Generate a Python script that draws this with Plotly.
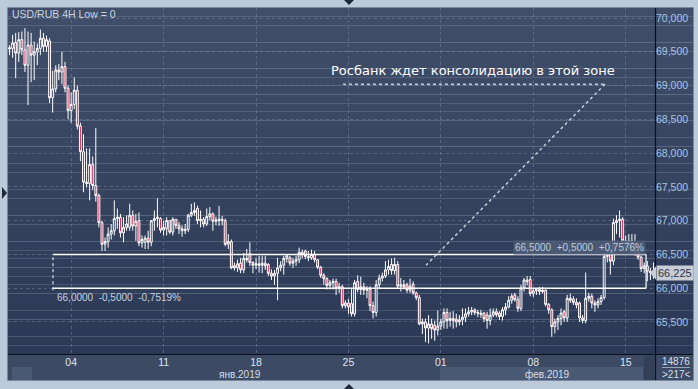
import plotly.graph_objects as go

# ---------------- data (USD/RUB 4H candles) ----------------
opens = [69.54,69.55,69.64,69.48,69.68,69.53,69.30,69.60,69.45,69.50,
         69.55,69.70,69.58,69.66,68.82,68.95,69.23,69.20,69.28,68.96,
         68.63,68.72,68.93,68.40,68.02,67.57,67.55,67.83,67.52,67.37,
         66.97,66.65,66.69,66.80,66.85,67.03,67.05,66.82,66.90,66.90,
         67.08,66.92,67.00,66.67,66.68,66.74,66.68,67.00,67.03,67.03,
         66.86,66.88,67.00,66.83,67.02,66.93,66.88,66.85,66.87,67.08,
         67.12,67.18,67.00,67.02,66.95,67.06,67.10,66.99,67.00,67.02,
         67.00,66.65,66.69,66.30,66.30,66.37,66.27,66.44,66.51,66.38,
         66.34,66.36,66.34,66.37,66.35,66.22,66.18,66.22,66.30,66.34,
         66.44,66.45,66.37,66.40,66.42,66.53,66.55,66.47,66.45,66.50,
         66.42,66.31,66.19,66.14,66.04,66.08,66.10,66.00,66.02,65.74,
         65.78,65.77,65.62,66.10,65.98,66.02,65.97,65.98,65.74,65.64,
         66.05,66.15,66.18,66.27,66.35,66.26,66.35,66.03,66.05,66.05,
         65.97,66.06,65.93,65.86,65.47,65.50,65.41,65.47,65.45,65.38,
         65.44,65.50,65.64,65.52,65.55,65.54,65.50,65.53,65.57,65.62,
         65.65,65.68,65.64,65.63,65.63,65.60,65.52,65.60,65.65,65.63,
         65.58,65.68,65.72,65.82,65.90,65.83,65.70,66.00,66.12,66.13,
         65.92,65.96,65.98,65.95,65.97,65.76,65.68,65.43,65.50,65.55,
         65.65,65.56,65.85,65.84,65.79,65.78,65.56,65.52,65.85,65.88,
         65.78,65.75,65.80,65.86,66.47,66.50,66.40,66.97,67.00,67.02,
         66.70,66.67,66.70,66.66,66.55,66.46,66.29,66.33,66.25,66.23]
highs = [69.60,69.75,69.78,69.79,69.80,69.85,69.80,69.78,69.65,69.62,
         69.83,69.78,69.74,69.70,69.22,69.30,69.32,69.50,69.35,69.00,
         68.90,69.12,69.00,68.45,68.28,68.07,68.07,67.95,68.37,67.40,
         67.00,66.75,66.90,66.95,67.30,67.18,67.10,67.05,67.08,67.25,
         67.15,67.10,67.12,66.78,66.78,66.85,67.00,67.15,67.33,67.05,
         67.00,67.05,67.00,67.05,67.02,66.98,66.93,66.95,67.10,67.25,
         67.27,67.22,67.15,67.05,67.18,67.20,67.12,67.06,67.22,67.07,
         67.03,66.80,66.72,66.38,66.42,66.45,66.52,66.58,66.68,66.40,
         66.45,66.48,66.48,66.48,66.37,66.28,66.27,66.45,66.40,66.48,
         66.50,66.48,66.45,66.48,66.60,66.57,66.57,66.55,66.57,66.55,
         66.43,66.33,66.22,66.16,66.12,66.14,66.14,66.08,66.05,65.82,
         65.84,66.00,66.12,66.19,66.17,66.08,66.03,66.03,65.80,66.12,
         66.20,66.23,66.40,66.42,66.44,66.45,66.40,66.15,66.12,66.08,
         66.14,66.10,65.95,65.90,65.55,65.55,65.60,65.55,65.52,65.67,
         65.55,65.70,65.70,65.65,65.66,65.62,65.60,65.70,65.70,65.72,
         65.72,65.70,65.68,65.68,65.65,65.65,65.70,65.70,65.70,65.66,
         65.72,65.78,65.88,65.92,65.93,65.88,66.05,66.15,66.18,66.18,
         66.00,66.00,66.02,66.02,66.00,65.78,65.70,65.55,65.60,65.70,
         65.68,65.90,65.92,65.88,65.85,65.80,65.60,66.23,65.93,65.92,
         65.82,65.85,65.90,66.52,66.55,66.55,67.03,67.08,67.15,67.05,
         66.78,66.80,66.80,66.80,66.58,66.48,66.38,66.40,66.30,66.38]
lows = [69.45,69.41,69.11,69.35,69.45,69.20,68.71,69.05,69.08,69.30,
        69.45,69.50,69.50,68.74,68.60,68.90,69.08,69.02,68.90,68.50,
        68.45,68.65,68.35,67.88,67.42,67.49,67.30,67.45,67.28,66.90,
        66.55,66.55,66.60,66.72,66.78,66.88,66.75,66.68,66.85,66.85,
        66.85,66.70,66.62,66.60,66.58,66.58,66.62,66.85,66.90,66.82,
        66.78,66.78,66.80,66.78,66.88,66.80,66.76,66.80,66.83,67.05,
        67.07,66.95,66.90,66.90,66.92,67.00,66.85,66.93,66.92,66.93,
        66.62,66.58,66.28,66.26,66.24,66.22,66.22,66.38,66.33,66.22,
        66.28,66.23,66.22,66.27,66.18,66.12,66.05,65.82,66.25,66.20,
        66.38,66.33,66.30,66.33,66.37,66.44,66.43,66.40,66.42,66.38,
        66.28,66.15,66.05,65.98,65.98,65.98,65.90,65.93,65.70,65.70,
        65.62,65.58,65.58,65.94,65.90,65.90,65.85,65.66,65.55,65.58,
        66.00,66.10,66.15,66.20,66.20,66.20,66.00,65.95,65.98,65.93,
        65.93,65.90,65.82,65.45,65.32,65.20,65.18,65.25,65.22,65.30,
        65.38,65.40,65.40,65.43,65.40,65.42,65.45,65.45,65.50,65.58,
        65.60,65.60,65.57,65.56,65.50,65.40,65.45,65.57,65.57,65.53,
        65.52,65.60,65.70,65.77,65.80,65.65,65.66,65.95,66.04,65.88,
        65.87,65.90,65.90,65.92,65.73,65.62,65.28,65.33,65.38,65.45,
        65.50,65.50,65.78,65.75,65.70,65.50,65.48,65.48,65.80,65.70,
        65.65,65.70,65.75,65.83,66.38,66.20,66.34,66.80,66.75,66.62,
        66.55,66.55,66.50,66.48,66.42,66.24,66.22,66.10,66.12,66.14]
closes = [69.56,69.63,69.48,69.68,69.53,69.30,69.60,69.45,69.50,69.55,
          69.70,69.58,69.68,68.82,68.95,69.23,69.20,69.28,68.96,68.63,
          68.72,68.93,68.40,68.02,67.57,67.55,67.83,67.52,67.37,66.97,
          66.65,66.69,66.80,66.85,67.03,67.05,66.82,66.90,66.95,67.08,
          66.92,66.99,66.67,66.72,66.74,66.68,67.00,67.03,67.05,66.86,
          66.90,67.00,66.83,67.02,66.93,66.88,66.85,66.87,67.08,67.12,
          67.15,67.00,67.02,66.95,67.06,67.10,66.99,67.01,67.02,67.00,
          66.65,66.69,66.30,66.33,66.36,66.27,66.44,66.42,66.38,66.34,
          66.36,66.34,66.37,66.33,66.22,66.18,66.22,66.30,66.34,66.44,
          66.48,66.37,66.40,66.42,66.53,66.50,66.47,66.45,66.50,66.42,
          66.31,66.19,66.14,66.04,66.08,66.10,66.00,66.02,65.74,65.78,
          65.72,65.62,66.08,65.98,66.02,65.97,65.98,65.74,65.64,66.05,
          66.15,66.18,66.27,66.32,66.26,66.35,66.03,66.05,66.02,65.97,
          66.03,65.93,65.86,65.47,65.50,65.41,65.47,65.40,65.38,65.44,
          65.50,65.64,65.52,65.55,65.52,65.50,65.53,65.57,65.62,65.65,
          65.67,65.64,65.63,65.61,65.55,65.52,65.60,65.65,65.61,65.58,
          65.68,65.72,65.82,65.88,65.83,65.70,66.00,66.12,66.10,65.92,
          65.96,65.98,65.95,65.97,65.76,65.68,65.43,65.50,65.55,65.63,
          65.56,65.85,65.82,65.79,65.75,65.56,65.52,65.85,65.88,65.78,
          65.75,65.80,65.86,66.47,66.50,66.40,66.97,67.00,67.02,66.70,
          66.67,66.70,66.66,66.55,66.46,66.29,66.33,66.25,66.23,66.225]
bar_index = list(range(len(closes)))

date_tick_pos = [20, 50, 80, 110, 140, 170, 200]
date_tick_text = ["04", "11", "18", "25", "01", "08", "15"]
price_ticks = [65.5, 66.0, 66.5, 67.0, 67.5, 68.0, 68.5, 69.0, 69.5, 70.0]
price_tick_text = ["65,500", "66,000", "66,500", "67,000", "67,500",
                   "68,000", "68,500", "69,000", "69,500", "70,000"]
zone_top, zone_bottom = 66.5, 66.0
last_price = 66.225

# ---------------- figure ----------------
W, H = 698, 389
L, R, T, B = 8, 43, 8, 35
PW, PH = W - L - R, H - T - B


def px(xp):  # pixel x -> paper x
    return (xp - L) / PW


def py(yp):  # pixel y -> paper y
    return (H - B - yp) / PH


FONT = "Liberation Sans"
shapes = []
annotations = []

# dark panel with vertical gradient (plot + right axis panel)
n = 40
top_c = (64, 78, 105)
bot_c = (43, 57, 86)
for k in range(n):
    f = k / (n - 1)
    c = tuple(int(round(top_c[j] + (bot_c[j] - top_c[j]) * f)) for j in range(3))
    shapes.append(dict(type="rect", xref="paper", yref="paper", layer="below",
                       x0=0, x1=px(693), y0=1 - (k + 1) / n, y1=1 - k / n,
                       line=dict(width=0), fillcolor="rgb(%d,%d,%d)" % c))
# bottom time band
shapes.append(dict(type="rect", xref="paper", yref="paper", layer="below",
                   x0=0, x1=px(693), y0=py(380), y1=0,
                   line=dict(width=0), fillcolor="rgb(60,74,100)"))
shapes.append(dict(type="rect", xref="paper", yref="paper", layer="below",
                   x0=px(12), x1=px(32), y0=py(380), y1=py(367),
                   line=dict(width=0), fillcolor="rgb(74,89,116)"))
shapes.append(dict(type="rect", xref="paper", yref="paper", layer="below",
                   x0=px(440), x1=px(643), y0=py(380), y1=py(367),
                   line=dict(width=0), fillcolor="rgb(74,89,116)"))
shapes.append(dict(type="rect", xref="paper", yref="paper", layer="below",
                   x0=px(644), x1=px(654), y0=py(380), y1=py(356),
                   line=dict(width=0), fillcolor="rgb(52,64,88)"))
# panel outline
shapes.append(dict(type="rect", xref="paper", yref="paper", layer="above",
                   x0=px(7.5), x1=px(693.5), y0=py(380.5), y1=py(7.5),
                   line=dict(width=1, color="rgb(120,136,160)"), fillcolor="rgba(0,0,0,0)"))
# black separators
shapes.append(dict(type="line", xref="paper", yref="paper", layer="above",
                   x0=px(655.5), x1=px(655.5), y0=py(380), y1=py(8),
                   line=dict(width=1.2, color="#0a0f1a")))
shapes.append(dict(type="line", xref="paper", yref="paper", layer="above",
                   x0=px(8), x1=px(693), y0=py(354.5), y1=py(354.5),
                   line=dict(width=1.2, color="#0a0f1a")))
shapes.append(dict(type="line", xref="paper", yref="paper", layer="above",
                   x0=px(662), x1=px(690), y0=py(367.5), y1=py(367.5),
                   line=dict(width=1, color="rgb(150,165,185)")))

# frame triangles
tri = "rgb(30,40,60)"
shapes.append(dict(type="path", xref="paper", yref="paper",
                   path="M %f %f L %f %f L %f %f Z" % (px(344), py(0), px(354), py(0), px(349), py(5)),
                   fillcolor=tri, line=dict(width=0)))
shapes.append(dict(type="path", xref="paper", yref="paper",
                   path="M %f %f L %f %f L %f %f Z" % (px(344), py(389), px(354), py(389), px(349), py(384)),
                   fillcolor=tri, line=dict(width=0)))
shapes.append(dict(type="path", xref="paper", yref="paper",
                   path="M %f %f L %f %f L %f %f Z" % (px(2), py(187), px(2), py(199), px(7), py(193)),
                   fillcolor=tri, line=dict(width=0)))

# consolidation zone (lines in data coordinates)
zx0, zx1 = 14.1, 206.6
for yv in (zone_top, zone_bottom):
    shapes.append(dict(type="line", xref="x", yref="y", x0=zx0, x1=zx1, y0=yv, y1=yv,
                       line=dict(color="white", width=1.5)))
shapes.append(dict(type="line", xref="x", yref="y", x0=zx1, x1=zx1, y0=zone_bottom, y1=zone_top,
                   line=dict(color="white", width=1.2)))
shapes.append(dict(type="line", xref="x", yref="y", x0=zx0, x1=zx0, y0=zone_bottom - 0.03, y1=zone_top,
                   line=dict(color="white", width=1, dash="dot")))
# dotted pointer
shapes.append(dict(type="line", xref="x", yref="y", x0=108.2, x1=193.3, y0=69.02, y1=69.02,
                   line=dict(color="rgb(200,206,216)", width=1.5, dash="dot")))
shapes.append(dict(type="line", xref="x", yref="y", x0=193.3, x1=135.2, y0=69.02, y1=66.34,
                   line=dict(color="rgb(200,206,216)", width=1.5, dash="dot")))
# last price pointer
shapes.append(dict(type="path", xref="paper", yref="y",
                   path="M %f %f L %f %f L %f %f Z" % (px(650), last_price, px(656), last_price + 0.1,
                                                      px(656), last_price - 0.1),
                   fillcolor="rgb(200,205,213)", line=dict(width=0)))

annotations += [
    dict(text="USD/RUB 4H Low = 0", xref="paper", yref="paper", x=px(10), y=py(14),
         xanchor="left", yanchor="middle", showarrow=False,
         font=dict(family=FONT, size=10.5, color="rgb(200,212,228)")),
    dict(text="Росбанк ждет консолидацию в этой зоне", xref="x", yref="y", x=150.4, y=69.23,
         xanchor="center", yanchor="middle", showarrow=False,
         font=dict(family="DejaVu Sans", size=13, color="white")),
    dict(text="66,5000  +0,5000  +0,7576%", xref="x", yref="y", x=zx1, y=66.595,
         xanchor="right", yanchor="middle", showarrow=False, bgcolor="rgba(78,92,118,0.9)",
         borderpad=1, font=dict(family=FONT, size=10, color="rgb(190,204,222)")),
    dict(text="66,0000  -0,5000  -0,7519%", xref="x", yref="y", x=14.8, y=65.868,
         xanchor="left", yanchor="middle", showarrow=False,
         font=dict(family=FONT, size=10, color="rgb(200,210,224)")),
    dict(text="66,225", xref="paper", yref="y", x=px(656), y=last_price,
         xanchor="left", yanchor="middle", showarrow=False, bgcolor="rgb(200,205,213)",
         borderpad=1, font=dict(family=FONT, size=11, color="rgb(40,52,78)")),
    dict(text="янв.2019", xref="paper", yref="paper", x=px(240), y=py(374),
         xanchor="center", yanchor="middle", showarrow=False,
         font=dict(family=FONT, size=10, color="rgb(215,222,232)")),
    dict(text="фев.2019", xref="paper", yref="paper", x=px(547), y=py(374),
         xanchor="center", yanchor="middle", showarrow=False,
         font=dict(family=FONT, size=10, color="rgb(215,222,232)")),
    dict(text="14876", xref="paper", yref="paper", x=px(676), y=py(361),
         xanchor="center", yanchor="middle", showarrow=False,
         font=dict(family=FONT, size=10, color="rgb(215,222,232)")),
    dict(text="&gt;217&lt;", xref="paper", yref="paper", x=px(676), y=py(374),
         xanchor="center", yanchor="middle", showarrow=False,
         font=dict(family=FONT, size=10, color="rgb(215,222,232)")),
]

fig = go.Figure(go.Candlestick(
    x=bar_index, open=opens, high=highs, low=lows, close=closes,
    increasing=dict(line=dict(color="white", width=1), fillcolor="rgb(48,62,90)"),
    decreasing=dict(line=dict(color="white", width=1), fillcolor="rgb(232,20,60)"),
    whiskerwidth=0, hoverinfo="skip", showlegend=False,
))

grid_c = "rgba(118,136,168,0.5)"
fig.update_layout(
    width=W, height=H, margin=dict(l=L, r=R, t=T, b=B),
    paper_bgcolor="rgb(188,202,218)", plot_bgcolor="rgba(0,0,0,0)",
    boxgap=0.12,
    shapes=shapes, annotations=annotations, showlegend=False, hovermode=False,
    xaxis=dict(range=[-0.5, 209.5], tickvals=date_tick_pos, ticktext=date_tick_text,
               showgrid=True, gridcolor=grid_c, gridwidth=1, griddash="3px,3px",
               zeroline=False, showline=False, ticks="",
               tickfont=dict(family=FONT, size=10.5, color="rgb(222,228,236)"),
               rangeslider=dict(visible=False), fixedrange=True),
    yaxis=dict(range=[65.025, 70.148], side="right", tickvals=price_ticks,
               ticktext=price_tick_text, showgrid=True, gridcolor=grid_c, gridwidth=1,
               griddash="3px,3px", zeroline=False, showline=False, ticks="",
               tickfont=dict(family=FONT, size=10.5, color="rgb(166,198,232)"),
               fixedrange=True),
)

fig.write_html("out.html")
